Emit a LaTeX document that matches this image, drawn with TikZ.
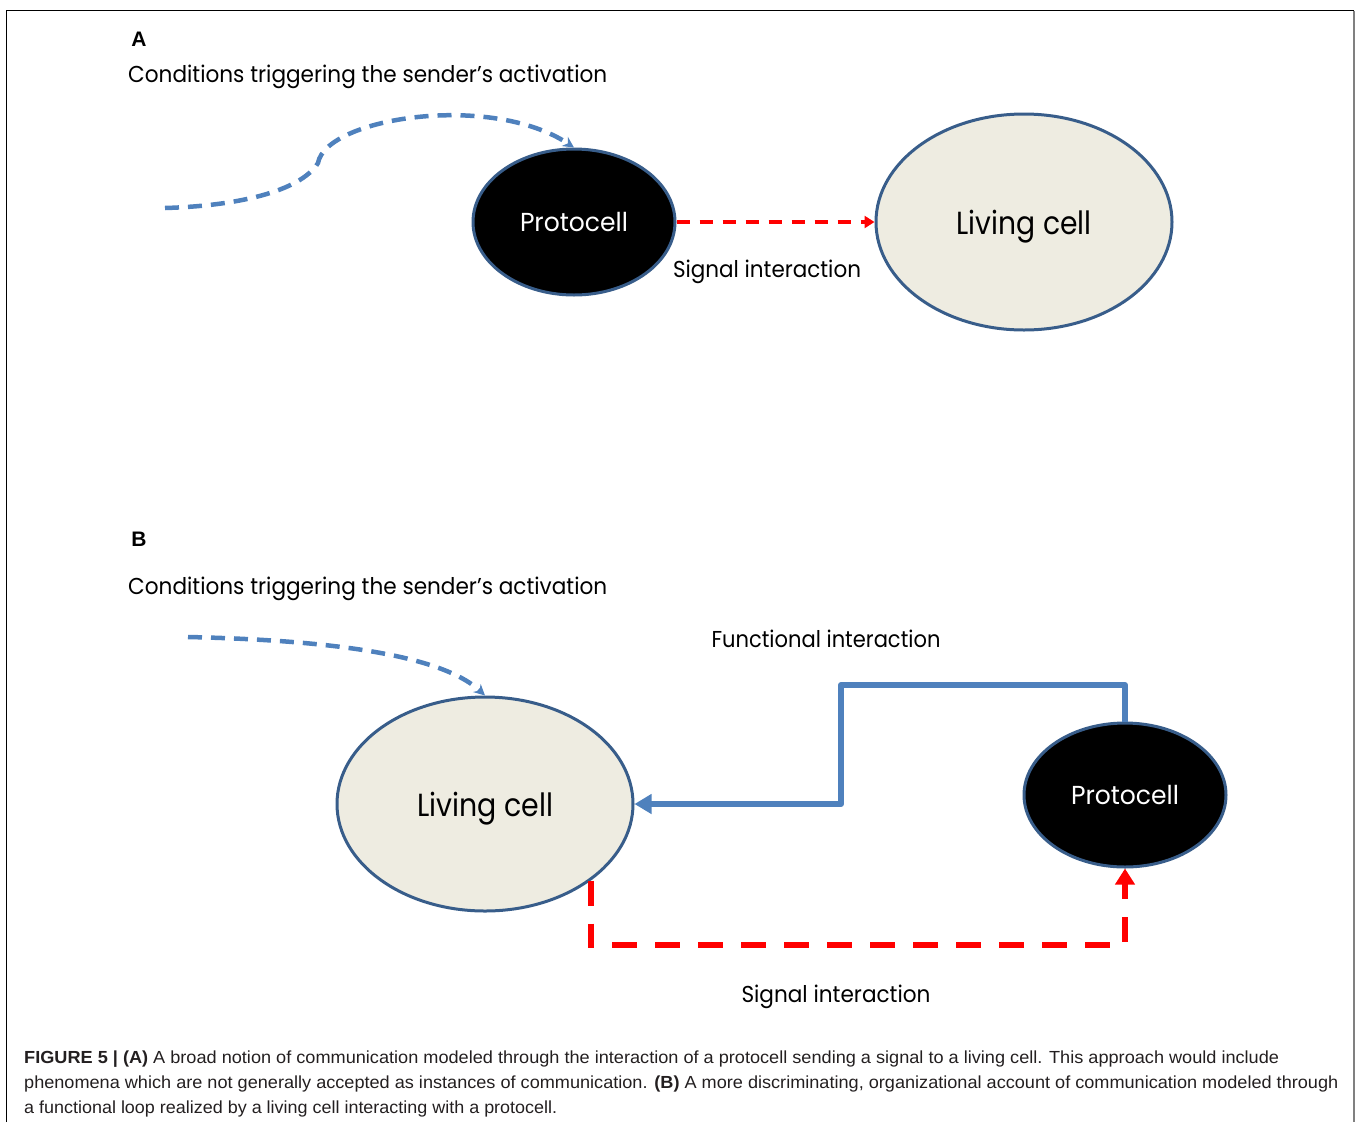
\documentclass[tikz,border=0pt]{standalone}
\usepackage{fontspec}
\setmainfont{Liberation Sans}
\newfontfamily\diag{Poppins}
\usetikzlibrary{shapes.geometric,arrows.meta,calc}
\newcommand{\fitw}[2]{\resizebox{#1}{\height}{#2}}
\definecolor{ellblue}{HTML}{385D8A}
\definecolor{lcfill}{HTML}{EEECE1}
\definecolor{arrblue}{HTML}{4F81BD}
\definecolor{capgray}{HTML}{231F20}
\begin{document}
\begin{tikzpicture}[x=1pt,y=-1pt,
  cellout/.style={ellipse, draw=ellblue, line width=3pt, inner sep=0pt},
  living/.style={cellout, fill=lcfill, font=\diag\fontsize{32}{36}\selectfont, text height=25pt, text depth=0pt},
  proto/.style={cellout, fill=black, text=white, font=\diag\fontsize{26}{30}\selectfont},
  lbl/.style={inner sep=0pt, anchor=base, font=\diag\fontsize{23}{28}\selectfont},
  head/.style={inner sep=0pt, anchor=base west, font=\diag\fontsize{23}{28}\selectfont},
  letter/.style={inner sep=0pt, anchor=base, font=\bfseries\fontsize{21}{24}\selectfont},
  captxt/.style={inner sep=0pt, anchor=base west, text=capgray, font=\fontsize{17.5}{21}\selectfont},
  bdash/.style={draw=arrblue, line width=4.5pt, dash pattern=on 14pt off 9pt, -{Stealth[length=11pt,width=11pt]}},
  rdashA/.style={draw=red, line width=4.5pt, dash pattern=on 13pt off 10pt, -{Triangle[length=10pt,width=12pt]}},
  rdashB/.style={draw=red, line width=6pt, dash pattern=on 25pt off 18pt, -{Triangle[length=16pt,width=19pt]}},
  bsolid/.style={draw=arrblue, line width=6pt, line join=round, -{Triangle[length=17pt,width=19pt]}}
]
\useasboundingbox (0,0) rectangle (1357,1122);
\draw[black, line width=1.2pt] (6.5,1122) -- (6.5,10.5) -- (1354,10.5);
\draw[gray, line width=2pt] (1354,10.5) -- (1354,1122);

% ---------- Panel A ----------
\node[letter] (labA) at (139,46) {A};
\node[head] (condA) at (128,82) {\fitw{479pt}{Conditions triggering the sender’s activation}};
\node[proto, minimum width=202pt, minimum height=146pt] (pcA) at (574,222) {\fitw{108pt}{Protocell}};
\node[living, minimum width=296pt, minimum height=216pt] (lcA) at (1024,222) {\fitw{135pt}{Living cell}};
\node[lbl] (sigA) at (767,277) {\fitw{188pt}{Signal interaction}};
\coordinate (sA) at (165,208);
\coordinate (kA) at (318,163);
\draw[bdash] (sA) .. controls (235,206) and (300,192) .. (kA)
  .. controls (326,118) and (490,92) .. (pcA.north);
\draw[rdashA] (pcA.east) -- (lcA.west);

% ---------- Panel B ----------
\node[letter] (labB) at (139,546) {B};
\node[head] (condB) at (128,594) {\fitw{479pt}{Conditions triggering the sender’s activation}};
\node[lbl] (funB) at (826,647) {\fitw{229pt}{Functional interaction}};
\node[living, minimum width=296pt, minimum height=214pt] (lcB) at (485,804) {\fitw{136pt}{Living cell}};
\node[proto, minimum width=202pt, minimum height=144pt] (pcB) at (1125,795) {\fitw{108pt}{Protocell}};
\node[lbl] (sigB) at (836,1002) {\fitw{189pt}{Signal interaction}};
\coordinate (sB) at (188,637);
\draw[bdash] (sB) .. controls (370,641) and (450,663) .. (lcB.north);
\coordinate (bt) at (841,685);
\draw[bsolid] (pcB.north) |- (bt) |- (lcB.east);
\coordinate (rl) at (1125,945);
\draw[rdashB] (lcB.south east) |- (rl) -- (pcB.south);

% ---------- Caption ----------
\node[captxt] (cap1) at (24,1063) {\fitw{1255pt}{\textbf{FIGURE 5 | (A)} A broad notion of communication modeled through the interaction of a protocell sending a signal to a living cell. This approach would include}};
\node[captxt] (cap2) at (24,1088) {\fitw{1314pt}{phenomena which are not generally accepted as instances of communication. \textbf{(B)} A more discriminating, organizational account of communication modeled through}};
\node[captxt] (cap3) at (24,1113) {\fitw{533pt}{a functional loop realized by a living cell interacting with a protocell.}};
\end{tikzpicture}
\end{document}
